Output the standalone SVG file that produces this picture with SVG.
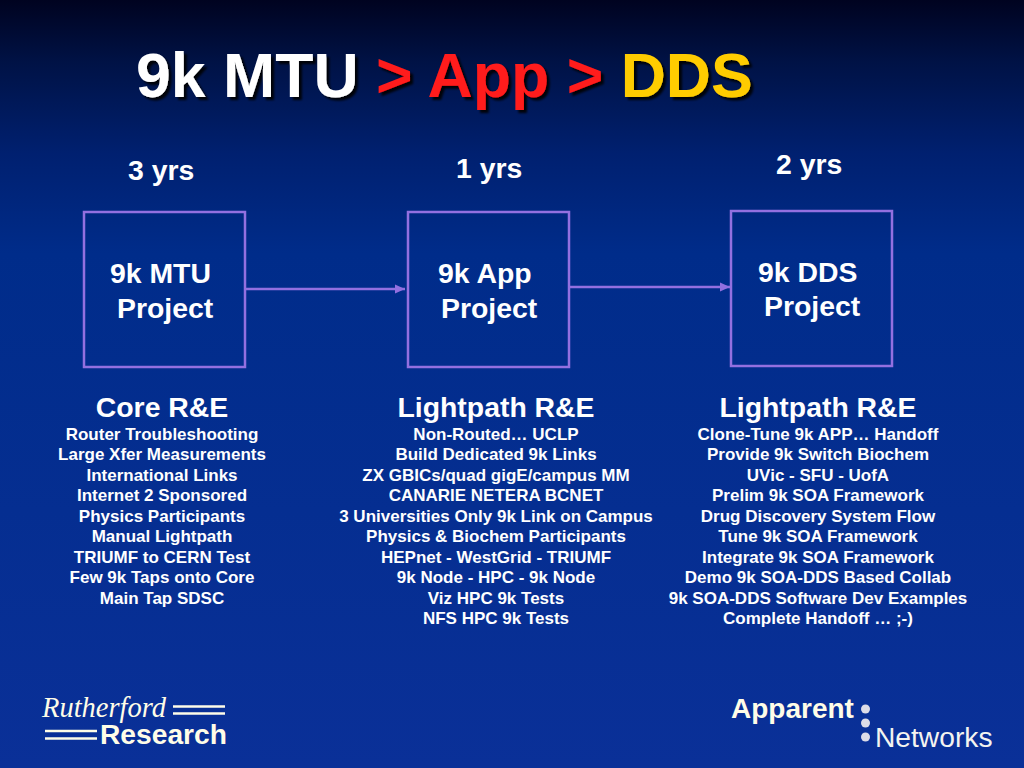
<svg xmlns="http://www.w3.org/2000/svg" width="1024" height="768" viewBox="0 0 1024 768">
<defs>
<linearGradient id="bg" x1="0" y1="0" x2="0" y2="1">
<stop offset="0" stop-color="#000320"/>
<stop offset="0.08" stop-color="#001245"/>
<stop offset="0.2" stop-color="#002070"/>
<stop offset="0.33" stop-color="#002c8a"/>
<stop offset="1" stop-color="#0a3098"/>
</linearGradient>
<marker id="arrow" markerUnits="userSpaceOnUse" markerWidth="11" markerHeight="11" refX="10" refY="5" orient="auto">
<path d="M0 0.500L10 5L0 9.500Z" fill="#9370e0"/>
</marker>
<filter id="shadow" x="-5%" y="-10%" width="110%" height="120%"><feDropShadow dx="3" dy="3" stdDeviation="0.8" flood-color="#000" flood-opacity="0.9"/></filter>
</defs>
<style>
text{font-family:"Liberation Sans",Arial,sans-serif;font-weight:bold;fill:#fff}
.title{font-size:62.600px}
.big{font-size:28.400px}
.list{font-size:17px;text-anchor:middle}
.head{font-size:28.400px;text-anchor:middle}
.box{fill:none;stroke:#9370e0;stroke-width:2.5}
.conn{fill:none;stroke:#9370e0;stroke-width:2.5;marker-end:url(#arrow)}
.rule{stroke:#fffde8;stroke-width:2.5}
.dot{fill:#dcdce8}
</style>
<rect width="1024" height="768" fill="url(#bg)"/>
<g id="title" filter="url(#shadow)">
<text class="title" x="136" y="97">9k MTU <tspan fill="#ff1a1a">&gt; App &gt;</tspan> <tspan fill="#ffcc00">DDS</tspan></text>
</g>
<g id="connectors">
<line class="conn" x1="245" y1="289" x2="405" y2="289"/>
<line class="conn" x1="569" y1="287" x2="730" y2="287"/>
</g>
<g id="node-mtu">
<rect class="box" x="84" y="212" width="161" height="155"/>
<text class="big" x="110" y="283">9k MTU</text>
<text class="big" x="117" y="318">Project</text>
</g>
<g id="node-app">
<rect class="box" x="408" y="212" width="161" height="155"/>
<text class="big" x="438" y="283">9k App</text>
<text class="big" x="441" y="318">Project</text>
</g>
<g id="node-dds">
<rect class="box" x="731" y="211" width="161" height="155"/>
<text class="big" x="758" y="282">9k DDS</text>
<text class="big" x="764" y="316">Project</text>
</g>
<g id="durations">
<text class="big" x="128" y="180">3 yrs</text>
<text class="big" x="456" y="178">1 yrs</text>
<text class="big" x="776" y="174">2 yrs</text>
</g>
<g id="col1">
<text class="head" x="162" y="417">Core R&amp;E</text>
<text class="list" x="162" y="440">Router Troubleshooting</text>
<text class="list" x="162" y="460">Large Xfer Measurements</text>
<text class="list" x="162" y="481">International Links</text>
<text class="list" x="162" y="501">Internet 2 Sponsored</text>
<text class="list" x="162" y="522">Physics Participants</text>
<text class="list" x="162" y="542">Manual Lightpath</text>
<text class="list" x="162" y="563">TRIUMF to CERN Test</text>
<text class="list" x="162" y="583">Few 9k Taps onto Core</text>
<text class="list" x="162" y="604">Main Tap SDSC</text>
</g>
<g id="col2">
<text class="head" x="496" y="417">Lightpath R&amp;E</text>
<text class="list" x="496" y="440">Non-Routed… UCLP</text>
<text class="list" x="496" y="460">Build Dedicated 9k Links</text>
<text class="list" x="496" y="481">ZX GBICs/quad gigE/campus MM</text>
<text class="list" x="496" y="501">CANARIE NETERA BCNET</text>
<text class="list" x="496" y="522">3 Universities Only 9k Link on Campus</text>
<text class="list" x="496" y="542">Physics &amp; Biochem Participants</text>
<text class="list" x="496" y="563">HEPnet - WestGrid - TRIUMF</text>
<text class="list" x="496" y="583">9k Node - HPC - 9k Node</text>
<text class="list" x="496" y="604">Viz HPC 9k Tests</text>
<text class="list" x="496" y="624">NFS HPC 9k Tests</text>
</g>
<g id="col3">
<text class="head" x="818" y="417">Lightpath R&amp;E</text>
<text class="list" x="818" y="440">Clone-Tune 9k APP… Handoff</text>
<text class="list" x="818" y="460">Provide 9k Switch Biochem</text>
<text class="list" x="818" y="481">UVic - SFU - UofA</text>
<text class="list" x="818" y="501">Prelim 9k SOA Framework</text>
<text class="list" x="818" y="522">Drug Discovery System Flow</text>
<text class="list" x="818" y="542">Tune 9k SOA Framework</text>
<text class="list" x="818" y="563">Integrate 9k SOA Framework</text>
<text class="list" x="818" y="583">Demo 9k SOA-DDS Based Collab</text>
<text class="list" x="818" y="604">9k SOA-DDS Software Dev Examples</text>
<text class="list" x="818" y="624">Complete Handoff … ;-)</text>
</g>
<g id="logo-rutherford">
<text x="42" y="717" style="font-family:'Liberation Serif',serif;font-style:italic;font-weight:normal;font-size:28.500px;fill:#fffde8">Rutherford</text>
<line class="rule" x1="173" y1="706.500" x2="225" y2="706.500"/>
<line class="rule" x1="173" y1="713.500" x2="225" y2="713.500"/>
<line class="rule" x1="45" y1="731" x2="97" y2="731"/>
<line class="rule" x1="45" y1="738.500" x2="97" y2="738.500"/>
<text x="100" y="744" style="font-size:28.200px;fill:#fffde8">Research</text>
</g>
<g id="logo-apparent">
<text x="731" y="718" style="font-size:28px;fill:#fffde8">Apparent</text>
<circle class="dot" cx="865.500" cy="709" r="4.500"/>
<circle class="dot" cx="865.500" cy="723" r="4.500"/>
<circle class="dot" cx="865.500" cy="737" r="4.500"/>
<text x="875" y="747" style="font-size:28.200px;font-weight:normal;fill:#f4f4f0">Networks</text>
</g>
</svg>
